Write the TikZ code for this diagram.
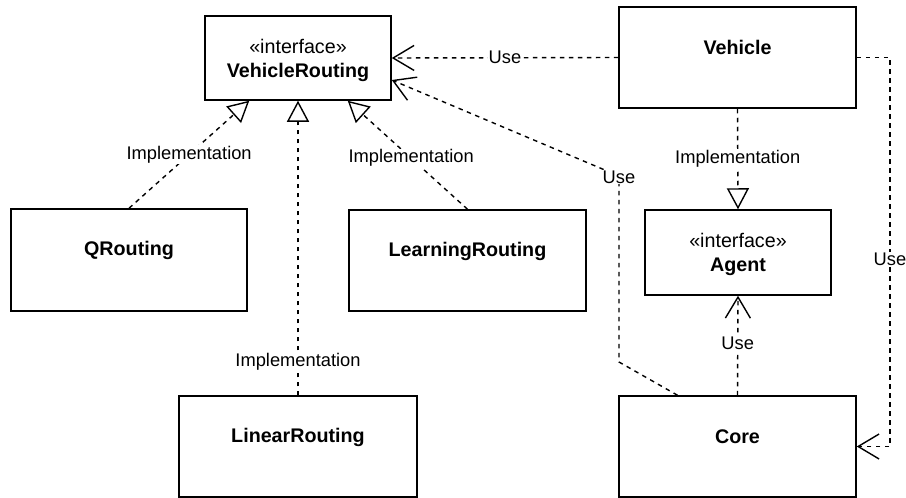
\documentclass[tikz,border=0pt]{standalone}
\usepackage{fontspec}
\setmainfont{Liberation Sans}
\usetikzlibrary{arrows.meta,calc}
\tikzset{
  cls/.style={draw=black, line width=1.5pt, rectangle, inner sep=0pt},
  cname/.style={font=\fontsize{19.7}{23}\selectfont\bfseries, inner sep=0pt},
  iname/.style={font=\fontsize{19.7}{24}\selectfont, align=center, inner sep=0pt},
  lbl/.style={font=\fontsize{18.3}{21}\selectfont, fill=white, inner sep=1pt},
  conn/.style={line width=1.4pt, dash pattern=on 4.5pt off 4.5pt},
  useedge/.style={conn, -{Straight Barb[length=21pt,width=25pt,line width=1.4pt]}},
  impledge/.style={conn, -{Triangle[open,length=21pt,width=22pt,line width=1.4pt]}},
}
\begin{document}
\begin{tikzpicture}[x=1pt,y=-1pt]
\useasboundingbox[fill=white] (0,0) rectangle (906,498);
% boxes
\node[cls, minimum width=186pt, minimum height=84pt] (vr) at (298,58) {};
\node[iname] (vrt) at (298,60) {«interface»\\\textbf{VehicleRouting}};
\node[cls, minimum width=237pt, minimum height=101pt] (veh) at (737.5,57.5) {};
\node[cname] (veht) at ($(veh.north)+(0,41)$) {Vehicle};
\node[cls, minimum width=186pt, minimum height=85pt] (ag) at (738,252.5) {};
\node[iname] (agt) at (738,254) {«interface»\\\textbf{Agent}};
\node[cls, minimum width=236pt, minimum height=102pt] (q) at (129,260) {};
\node[cname] (qt) at ($(q.north)+(0,42)$) {QRouting};
\node[cls, minimum width=237pt, minimum height=101pt] (lr) at (467.5,260.5) {};
\node[cname] (lrt) at ($(lr.north)+(0,42)$) {LearningRouting};
\node[cls, minimum width=238pt, minimum height=101pt] (lin) at (298,446.5) {};
\node[cname] (lint) at ($(lin.north)+(0,42)$) {LinearRouting};
\node[cls, minimum width=237pt, minimum height=101pt] (core) at (737.5,446.5) {};
\node[cname] (coret) at ($(core.north)+(0,41)$) {Core};
% connectors
\draw[useedge] (veh.west) -- node[lbl] (l1) {Use} (vr.east);
\draw[useedge] (veh.east) -- (890,57.5) -- node[lbl, pos=0.52] (l2) {Use} (890,446.5) -- (core.east);
\draw[impledge] (veh.south) -- node[lbl] (l3) {Implementation} (ag.north);
\draw[useedge] (core.north) -- node[lbl, pos=0.52] (l4) {Use} (ag.south);
\draw[useedge] ($(core.north)+(-60,0)$) -- (619,362) -- coordinate (bend) (619,176) -- ($(vr.east)+(0,22)$);
\node[lbl] (l5) at (619,177) {Use};
\draw[impledge] (q.north) -- node[lbl] (l6) {Implementation} ($(vr.south west)+(45,0)$);
\draw[impledge] (lr.north) -- node[lbl, pos=0.47] (l7) {Implementation} ($(vr.south east)+(-44,0)$);
\draw[impledge] (lin.north) -- node[lbl, pos=0.115] (l8) {Implementation} (vr.south);
\end{tikzpicture}
\end{document}
